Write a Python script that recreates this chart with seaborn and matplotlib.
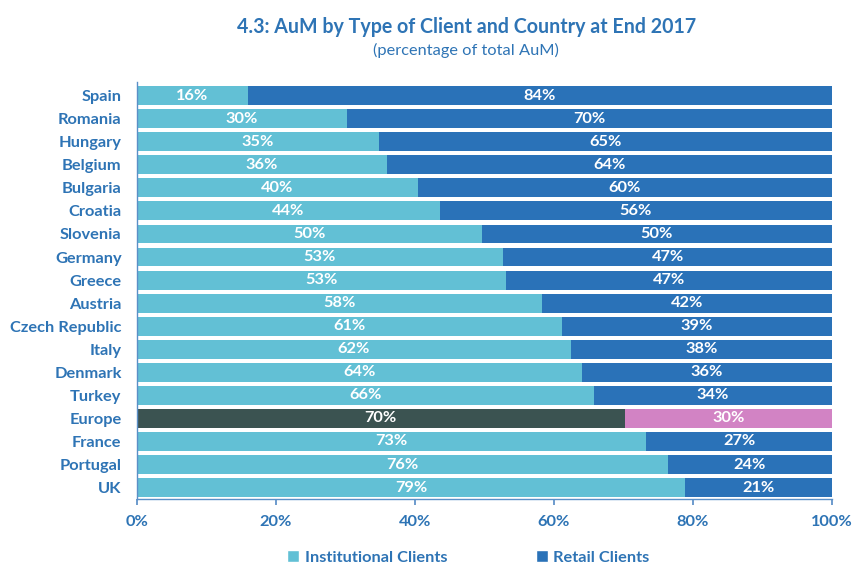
import matplotlib
matplotlib.use("Agg")
import matplotlib.pyplot as plt
import seaborn as sns
import pandas as pd
from matplotlib.patches import Patch
from matplotlib.ticker import PercentFormatter

countries = ["Spain", "Romania", "Hungary", "Belgium", "Bulgaria", "Croatia",
             "Slovenia", "Germany", "Greece", "Austria", "Czech Republic", "Italy",
             "Denmark", "Turkey", "Europe", "France", "Portugal", "UK"]
institutional = [16.0, 30.3, 34.8, 36.0, 40.4, 43.6, 49.6, 52.7, 53.1, 58.3,
                 61.2, 62.4, 64.0, 65.8, 70.2, 73.3, 76.4, 78.9]
retail = [84.0, 69.7, 65.2, 64.0, 59.6, 56.4, 50.4, 47.3, 46.9, 41.7,
          38.8, 37.6, 36.0, 34.2, 29.8, 26.7, 23.6, 21.1]
series_names = ["Institutional Clients", "Retail Clients"]
x_ticks = [0, 20, 40, 60, 80, 100]

C_INST = "#62C0D5"
C_RET = "#2A72B8"
C_EU_INST = "#3B5351"
C_EU_RET = "#D283C4"
C_TEXT = "#2E74B5"

sns.set_theme(style="white")
plt.rcParams["font.family"] = ["Lato", "DejaVu Sans"]

df = pd.DataFrame({"Country": countries, "Institutional": institutional, "Retail": retail})
df["Total"] = df["Institutional"] + df["Retail"]

inst_pal = {c: (C_EU_INST if c == "Europe" else C_INST) for c in countries}
ret_pal = {c: (C_EU_RET if c == "Europe" else C_RET) for c in countries}

fig = plt.figure(figsize=(8.55, 5.64), dpi=100)
ax = fig.add_axes([0.160, 0.115, 0.813, 0.740])

sns.barplot(data=df, y="Country", x="Total", hue="Country", palette=ret_pal,
            orient="h", width=0.82, legend=False, ax=ax, saturation=1, linewidth=0)
sns.barplot(data=df, y="Country", x="Institutional", hue="Country", palette=inst_pal,
            orient="h", width=0.82, legend=False, ax=ax, saturation=1, linewidth=0)

for i, (a, b) in enumerate(zip(institutional, retail)):
    ax.text(a / 2, i, f"{round(a)}%", ha="center", va="center", color="white",
            fontsize=11.8, fontweight="bold")
    ax.text(a + b / 2, i, f"{round(b)}%", ha="center", va="center", color="white",
            fontsize=11.8, fontweight="bold")

ax.set_xlim(0, 100)
ax.set_ylim(len(countries) - 0.5, -0.6)
ax.set_xticks(x_ticks)
ax.xaxis.set_major_formatter(PercentFormatter(decimals=0))
ax.set_xlabel("")
ax.set_ylabel("")
for s in ["top", "right"]:
    ax.spines[s].set_visible(False)
ax.spines["left"].set_color("#5B8FC7")
ax.spines["bottom"].set_color("#5B8FC7")
ax.spines["left"].set_linewidth(1.0)
ax.spines["bottom"].set_linewidth(1.0)
ax.tick_params(axis="x", which="major", bottom=True, length=4.5, color="#5B8FC7",
               direction="out", labelsize=11.8, labelcolor=C_TEXT, pad=7)
ax.tick_params(axis="y", left=False, length=0, labelsize=11.8, labelcolor=C_TEXT, pad=11)
for lbl in ax.get_xticklabels() + ax.get_yticklabels():
    lbl.set_fontweight("bold")

fig.text(0.546, 0.952, "4.3: AuM by Type of Client and Country at End 2017",
         ha="center", va="center", fontsize=14.1, fontweight="bold", color=C_TEXT)
fig.text(0.545, 0.911, "(percentage of total AuM)", ha="center", va="center",
         fontsize=11.8, color=C_TEXT)

handles = [Patch(facecolor=C_INST, label=series_names[0]),
           Patch(facecolor=C_RET, label=series_names[1])]
leg = fig.legend(handles=handles, loc="center", bbox_to_anchor=(0.548, 0.012),
                 ncol=2, frameon=False, handlelength=0.72, handleheight=0.72,
                 handletextpad=0.35, columnspacing=5.4,
                 prop={"weight": "bold", "size": 11.8})
for t in leg.get_texts():
    t.set_color(C_TEXT)

fig.savefig("out.png", dpi=100, facecolor="white")
